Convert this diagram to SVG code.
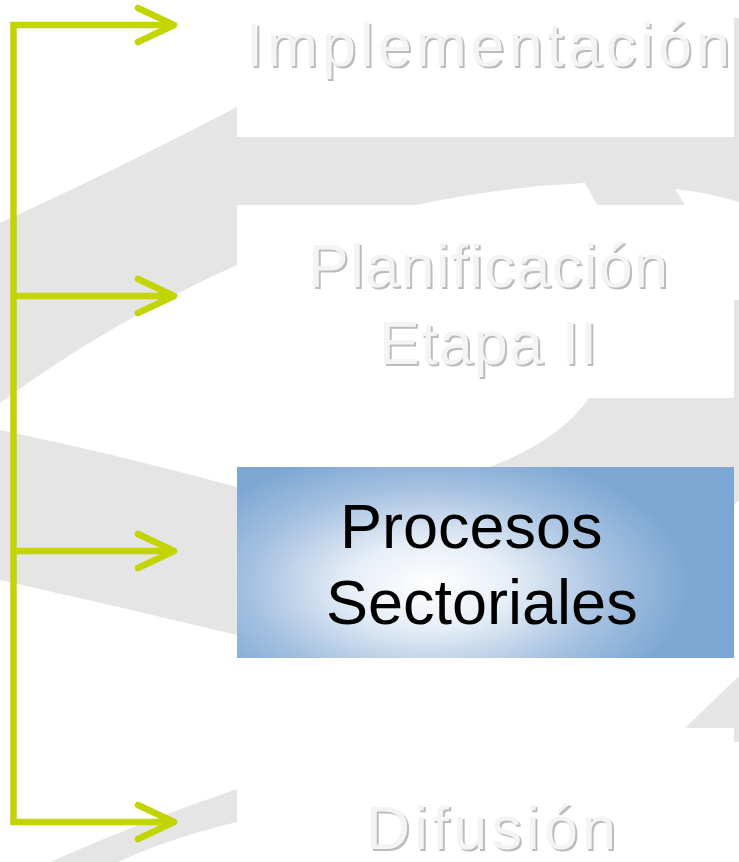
<svg xmlns="http://www.w3.org/2000/svg" width="739" height="862" viewBox="0 0 739 862">
  <style>
    .ring { fill: #e5e5e5; }
    .box { fill: #ffffff; }
    .lbl { font-family: "Liberation Sans", Arial, sans-serif; font-size: 61px; }
    .lbl-shadow { fill: #bcbcbc; }
    .lbl-main { fill: #f4f4f4; }
    .dark { font-family: "Liberation Sans", Arial, sans-serif; font-size: 63px; fill: #000000; }
    .conn { fill: none; stroke: #c3d500; stroke-width: 6.5; }
    .head { fill: none; stroke: #c3d500; stroke-width: 6.5; stroke-linecap: round; stroke-linejoin: round; }
  </style>
  <defs>
    <radialGradient id="blueGrad" gradientUnits="userSpaceOnUse" cx="0" cy="0" r="1" gradientTransform="translate(430 585) scale(260 140)">
      <stop offset="0" stop-color="#ffffff"/>
      <stop offset="0.3" stop-color="#e8eff7"/>
      <stop offset="0.7" stop-color="#a4c0e0"/>
      <stop offset="1" stop-color="#7ca7d3"/>
    </radialGradient>
    <path id="chev" d="M -36,-17 L 0,0 L -36,17"/>
  </defs>

  <g id="background">
    <path class="ring" d="M 0,223 Q 120,168 237,107 L 500,40 Q 650,8 739,18 L 739,202 Q 705,192 675,189 L 685,205 L 690,214 L 600,214 L 597,205 L 585,183 Q 500,187 417,205 L 237,265 Q 110,322 0,403 Z"/>
    <path class="ring" d="M 0,430 Q 120,455 237,487 L 480,480 L 490,467 Q 560,440 590,397 L 640,300 L 739,300 L 739,500 L 720,520 L 700,650 L 237,650 L 237,635 Q 120,607 0,580 Z"/>
    <path class="ring" d="M 685,728 L 739,676 L 739,742 L 700,742 Z"/>
    <path class="ring" d="M 237,789 Q 140,822 50,862 L 118,862 Q 170,838 237,822 Z"/>
  </g>

  <g id="n-implementacion">
    <rect class="box" x="237" y="0" width="497" height="137"/>
    <text class="lbl lbl-shadow" x="248" y="68" textLength="484" lengthAdjust="spacing">Implementación</text>
    <text class="lbl lbl-main" x="246" y="66" textLength="484" lengthAdjust="spacing">Implementación</text>
  </g>

  <g id="n-planificacion">
    <rect class="box" x="237" y="205" width="497" height="193"/>
    <text class="lbl lbl-shadow" x="310" y="289" textLength="360" lengthAdjust="spacing">Planificación</text>
    <text class="lbl lbl-main" x="308" y="287" textLength="360" lengthAdjust="spacing">Planificación</text>
    <text class="lbl lbl-shadow" x="381" y="366" textLength="218" lengthAdjust="spacing">Etapa II</text>
    <text class="lbl lbl-main" x="379" y="364" textLength="218" lengthAdjust="spacing">Etapa II</text>
  </g>

  <g id="n-procesos">
    <rect x="237" y="467" width="497" height="191" fill="url(#blueGrad)"/>
    <text class="dark" x="340" y="548">Procesos</text>
    <text class="dark" x="326" y="624">Sectoriales</text>
  </g>

  <g id="n-difusion">
    <rect class="box" x="237" y="728" width="497" height="134"/>
    <text class="lbl lbl-shadow" x="368" y="851" textLength="250" lengthAdjust="spacing">Difusión</text>
    <text class="lbl lbl-main" x="366" y="849" textLength="250" lengthAdjust="spacing">Difusión</text>
  </g>

  <g id="connectors">
    <path class="conn" d="M 13.5,822 L 13.5,25 L 172,25"/>
    <path class="conn" d="M 13.5,296 L 172,296"/>
    <path class="conn" d="M 13.5,551 L 172,551"/>
    <path class="conn" d="M 10.25,822 L 172,822"/>
    <use href="#chev" class="head" transform="translate(174 25)"/>
    <use href="#chev" class="head" transform="translate(174 296)"/>
    <use href="#chev" class="head" transform="translate(174 551)"/>
    <use href="#chev" class="head" transform="translate(174 822)"/>
  </g>
</svg>
